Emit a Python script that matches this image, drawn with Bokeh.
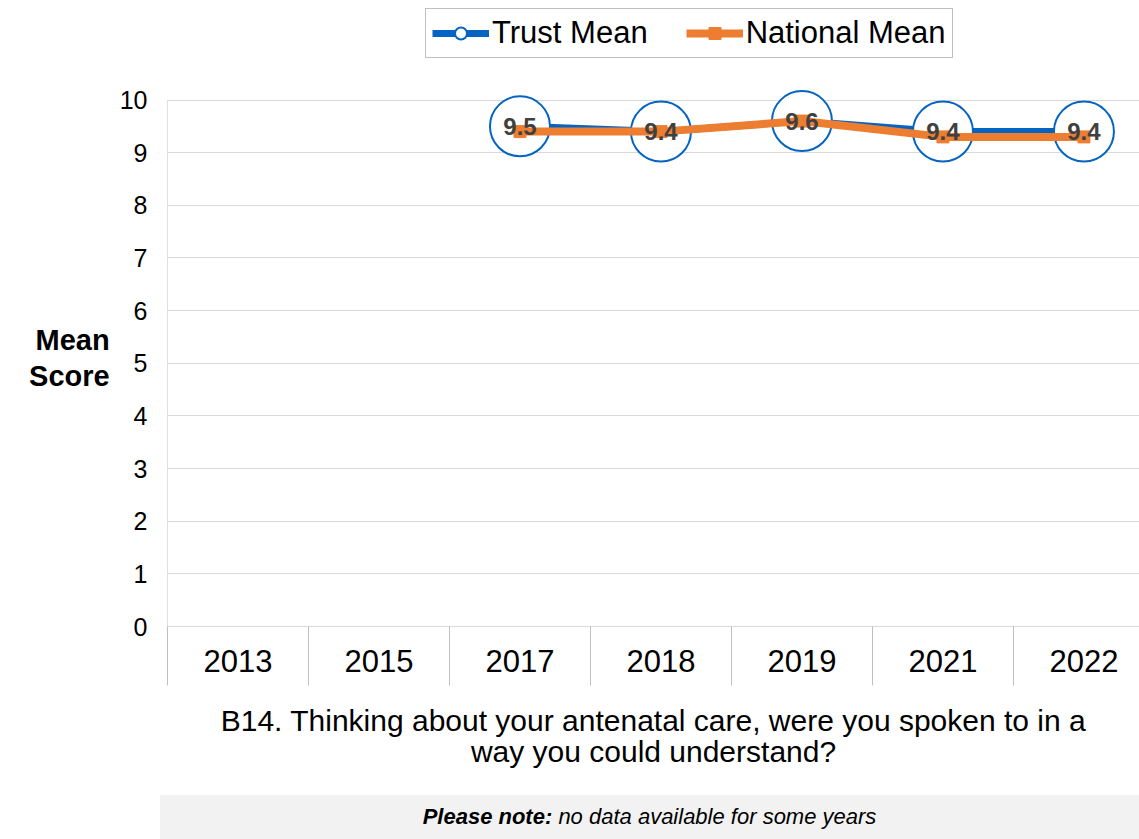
from bokeh.plotting import figure
from bokeh.models import (ColumnDataSource, Range1d, FixedTicker, LinearAxis,
                          Legend, LegendItem, Div, Arrow)
from bokeh.layouts import column
from bokeh.embed import file_html
from bokeh.resources import INLINE
from bokeh.core.properties import value

# ---- data ----
years = ["2013", "2015", "2017", "2018", "2019", "2021", "2022"]
trust_mean = [None, None, 9.5, 9.4, 9.6, 9.4, 9.4]
national_mean = [None, None, 9.4, 9.4, 9.6, 9.3, 9.3]
y_ticks = [0, 1, 2, 3, 4, 5, 6, 7, 8, 9, 10]
series_names = ["Trust Mean", "National Mean"]
question = "B14. Thinking about your antenatal care, were you spoken to in a\nway you could understand?"
y_title = "Mean\nScore"
note_bold = "Please note:"
note_rest = "no data available for some years"

FONT = "Liberation Sans"
BLUE = "#0563C1"
ORANGE = "#ED7D31"
GRID = "#D9D9D9"
SEP = "#BFBFBF"

ti = [i for i, v in enumerate(trust_mean) if v is not None]
ni = [i for i, v in enumerate(national_mean) if v is not None]
src_t = ColumnDataSource(dict(x=[i + 0.5 for i in ti],
                              y=[trust_mean[i] for i in ti],
                              lbl=["%.1f" % trust_mean[i] for i in ti]))
src_n = ColumnDataSource(dict(x=[i + 0.5 for i in ni],
                              y=[national_mean[i] for i in ni]))

T_STYLE = dict(line_color=BLUE, line_width=7)
T_MARK = dict(marker="circle", fill_color="white", line_color=BLUE, line_width=2)
N_STYLE = dict(line_color=ORANGE, line_width=8)
N_MARK = dict(marker="square", fill_color=ORANGE, line_color=ORANGE)

# ---------------- legend strip (own figure, above the chart) ----------------
# the series are drawn here out of view; only the legend is visible
pl = figure(frame_width=1139, frame_height=79, x_range=Range1d(-2, -1), y_range=Range1d(-2, -1),
            output_backend="svg", toolbar_location=None,
            min_border=0, x_axis_type=None, y_axis_type=None)
pl.outline_line_color = None
pl.grid.visible = False
lt1 = pl.line("x", "y", source=src_t, **T_STYLE)
lt2 = pl.scatter("x", "y", source=src_t, size=12, **T_MARK)
ln1 = pl.line("x", "y", source=src_n, **N_STYLE)
ln2 = pl.scatter("x", "y", source=src_n, size=12, **N_MARK)
legend = Legend(items=[LegendItem(label=series_names[0], renderers=[lt1, lt2]),
                       LegendItem(label=series_names[1], renderers=[ln1, ln2])],
                orientation="horizontal", location=(425, 21))
legend.border_line_color = "#808080"
legend.border_line_width = 1
legend.padding = 6
legend.spacing = 38
legend.label_standoff = 3
legend.glyph_width = 57
legend.glyph_height = 30
legend.label_text_font = FONT
legend.label_text_font_size = "31px"
legend.label_text_color = "black"
legend.margin = 0
legend.background_fill_alpha = 1
pl.add_layout(legend)

# ---------------- main chart ----------------
p = figure(frame_width=972, frame_height=537,
           x_range=Range1d(0, 6.894), y_range=Range1d(0, 10.2),
           output_backend="svg", toolbar_location=None,
           min_border_left=167, min_border_right=0,
           min_border_top=10, min_border_bottom=169,
           x_axis_type=None)
p.outline_line_color = None
p.background_fill_color = "white"
p.border_fill_color = "white"

ya = p.yaxis[0]
ya.ticker = FixedTicker(ticks=y_ticks)
ya.axis_line_color = None
ya.major_tick_line_color = None
ya.minor_tick_line_color = None
ya.major_label_text_font = FONT
ya.major_label_text_font_size = "25px"
ya.major_label_text_color = "black"
ya.major_label_standoff = 14
ya.axis_label = y_title
ya.axis_label_orientation = "horizontal"
ya.axis_label_text_font = FONT
ya.axis_label_text_font_size = "29px"
ya.axis_label_text_font_style = "bold"
ya.axis_label_text_color = "black"
ya.axis_label_text_line_height = 1.1
ya.axis_label_standoff = 7

p.ygrid.ticker = FixedTicker(ticks=y_ticks)
p.ygrid.grid_line_color = GRID
p.ygrid.grid_line_width = 1
p.xgrid.grid_line_color = None

xa = LinearAxis(
    ticker=FixedTicker(ticks=[i + 0.5 for i in range(len(years))],
                       minor_ticks=list(range(len(years)))),
    major_label_overrides={i + 0.5: y for i, y in enumerate(years)},
)
xa.axis_line_color = GRID
xa.major_tick_line_color = None
xa.major_tick_out = 0
xa.major_tick_in = 0
xa.minor_tick_out = 59
xa.minor_tick_in = 0
xa.minor_tick_line_color = SEP
xa.major_label_text_font = FONT
xa.major_label_text_font_size = "31px"
xa.major_label_text_color = "black"
xa.major_label_standoff = -36
xa.axis_label = question
xa.axis_label_text_font = FONT
xa.axis_label_text_font_size = "30px"
xa.axis_label_text_font_style = "normal"
xa.axis_label_text_color = "black"
xa.axis_label_text_line_height = 0.95
xa.axis_label_standoff = 29
p.add_layout(xa, "below")

p.add_layout(Arrow(end=None, x_start=0, y_start=y_ticks[-1], x_end=0, y_end=y_ticks[0],
                   line_color=SEP, line_width=1))

p.line("x", "y", source=src_t, **T_STYLE)
p.scatter("x", "y", source=src_t, size=60, **T_MARK)
p.line("x", "y", source=src_n, **N_STYLE)
p.scatter("x", "y", source=src_n, size=12, **N_MARK)
p.text("x", "y", "lbl", source=src_t, text_font=value(FONT),
       text_font_style="bold", text_font_size="24px", text_color="#404040",
       text_align="center", text_baseline="middle")

note = Div(text="<b>%s</b> %s" % (note_bold, note_rest), width=979, height=44,
           margin=(0, 0, 0, 160),
           styles={"background-color": "#F2F2F2", "font-family": FONT,
                   "font-style": "italic", "font-size": "22px",
                   "text-align": "center", "line-height": "44px",
                   "color": "black"})

layout = column(pl, p, note, spacing=0)
open("out.html", "w").write(file_html(layout, INLINE))
